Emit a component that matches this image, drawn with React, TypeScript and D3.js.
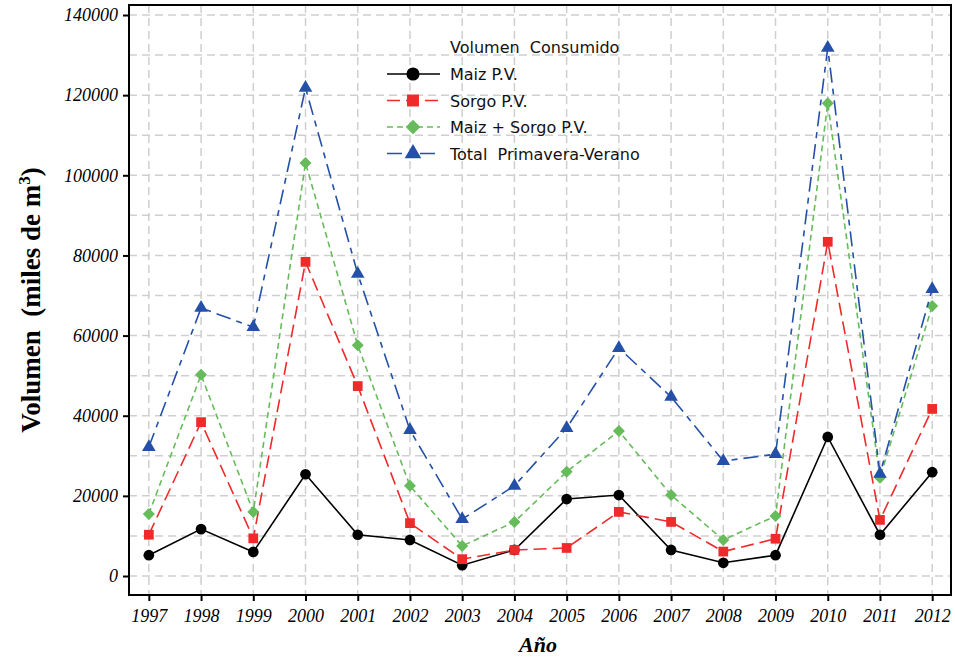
import React, { useRef, useEffect } from 'react';
import * as d3 from 'd3';

const years = [1997, 1998, 1999, 2000, 2001, 2002, 2003, 2004, 2005, 2006, 2007, 2008, 2009, 2010, 2011, 2012];
const maiz = [5200, 11700, 6000, 25400, 10300, 9000, 2700, 6500, 19200, 20200, 6500, 3300, 5200, 34700, 10300, 25900];
const sorgo = [10300, 38400, 9400, 78400, 47400, 13200, 4200, 6500, 7000, 16000, 13500, 6100, 9300, 83400, 14000, 41700];
const maizSorgo = [15500, 50200, 16000, 103100, 57600, 22500, 7500, 13500, 26000, 36200, 20200, 9000, 15000, 118000, 24500, 67400];
const total = [32200, 66900, 62100, 121800, 75400, 36400, 14200, 22500, 36900, 56900, 44700, 28700, 30400, 131800, 25500, 71600];
const yTicks = [0, 20000, 40000, 60000, 80000, 100000, 120000, 140000];

const seriesNames = ['Maiz P.V.', 'Sorgo P.V.', 'Maiz + Sorgo P.V.', 'Total  Primavera-Verano'];

const App = () => {
  const svgRef = useRef<SVGSVGElement>(null);

  useEffect(() => {
    const svg = d3.select(svgRef.current);
    svg.selectAll('*').remove();

    const left = 129, right = 951, top = 5, bottom = 595;
    const x = d3.scaleLinear().domain([1996.62, 2012.36]).range([left, right]);
    const y = d3.scaleLinear().domain([-4740, 142500]).range([bottom, top]);

    // grid
    const grid = svg.append('g').attr('stroke', '#cfcfcf').attr('stroke-width', 1.5).attr('stroke-dasharray', '8,5');
    d3.range(0, 140001, 10000).forEach((v) => {
      grid.append('line').attr('x1', left).attr('x2', right).attr('y1', y(v)).attr('y2', y(v));
    });
    years.forEach((yr) => {
      grid.append('line').attr('x1', x(yr)).attr('x2', x(yr)).attr('y1', top).attr('y2', bottom);
    });

    const series = [
      { name: seriesNames[0], values: maiz, color: '#000000', dash: null, shape: 'circle' },
      { name: seriesNames[1], values: sorgo, color: '#ee2a2a', dash: '13,6', shape: 'square' },
      { name: seriesNames[2], values: maizSorgo, color: '#66bb5a', dash: '6,4', shape: 'diamond' },
      { name: seriesNames[3], values: total, color: '#2450a8', dash: '15,6,6,6', shape: 'triangle' },
    ];

    // marker shapes, scale k for legend
    const marker = (shape: string, k: number) => {
      if (shape === 'circle') return { d: d3.symbol().type(d3.symbolCircle).size(90 * k)(), rot: 0 };
      if (shape === 'square') return { d: d3.symbol().type(d3.symbolSquare).size(95 * k)(), rot: 0 };
      if (shape === 'diamond') return { d: d3.symbol().type(d3.symbolSquare).size(72 * k)(), rot: 45 };
      return { d: d3.symbol().type(d3.symbolTriangle).size(80 * k)(), rot: 0 };
    };

    const line = d3.line<number>().x((_, i) => x(years[i])).y((d) => y(d));

    series.forEach((s) => {
      const g = svg.append('g');
      g.append('path')
        .datum(s.values)
        .attr('fill', 'none')
        .attr('stroke', s.color)
        .attr('stroke-width', 1.6)
        .attr('stroke-dasharray', s.dash)
        .attr('d', line);
      const m = marker(s.shape, 1);
      g.selectAll('path.m')
        .data(s.values)
        .join('path')
        .attr('class', 'm')
        .attr('transform', (d, i) => `translate(${x(years[i])},${y(d)}) rotate(${m.rot})`)
        .attr('fill', s.color)
        .attr('d', m.d);
    });

    // frame
    svg.append('rect')
      .attr('x', left).attr('y', top).attr('width', right - left).attr('height', bottom - top)
      .attr('fill', 'none').attr('stroke', '#000').attr('stroke-width', 2);

    // y axis
    const yAxis = svg.append('g')
      .attr('transform', `translate(${left},0)`)
      .call(d3.axisLeft(y).tickValues(yTicks).tickSize(6).tickFormat(d3.format('d')));
    yAxis.select('.domain').remove();
    yAxis.selectAll('line').attr('stroke', '#000').attr('stroke-width', 2);
    yAxis.selectAll('text')
      .attr('font-family', '"Liberation Serif", serif')
      .attr('font-style', 'italic')
      .attr('font-size', 18)
      .attr('fill', '#000')
      .attr('x', -11);

    // x axis
    const xAxis = svg.append('g')
      .attr('transform', `translate(0,${bottom})`)
      .call(d3.axisBottom(x).tickValues(years).tickSize(6).tickFormat(d3.format('d')));
    xAxis.select('.domain').remove();
    xAxis.selectAll('line').attr('stroke', '#000').attr('stroke-width', 2);
    xAxis.selectAll('text')
      .attr('font-family', '"Liberation Serif", serif')
      .attr('font-style', 'italic')
      .attr('font-size', 18)
      .attr('fill', '#000')
      .attr('y', 14);

    // axis titles
    svg.append('text')
      .attr('x', 538).attr('y', 652)
      .attr('text-anchor', 'middle')
      .attr('font-family', '"Liberation Serif", serif')
      .attr('font-weight', 'bold').attr('font-style', 'italic')
      .attr('font-size', 22)
      .text('Año');

    const yt = svg.append('text')
      .attr('transform', 'translate(40,300) rotate(-90)')
      .attr('text-anchor', 'middle')
      .attr('font-family', '"Liberation Serif", serif')
      .attr('font-weight', 'bold')
      .attr('font-size', 27)
      .style('white-space', 'pre');
    yt.append('tspan').text('Volumen  (miles de m');
    yt.append('tspan').attr('font-size', 17).attr('dy', -10).text('3');
    yt.append('tspan').attr('dy', 10).text(')');

    // legend
    const lg = svg.append('g')
      .attr('font-family', '"DejaVu Sans", sans-serif')
      .attr('font-size', 16)
      .attr('fill', '#111');
    lg.append('text').attr('x', 450).attr('y', 53).style('white-space', 'pre').text('Volumen  Consumido');
    series.forEach((s, i) => {
      const ly = 74 + i * 26.5;
      lg.append('line')
        .attr('x1', 387).attr('x2', 440).attr('y1', ly).attr('y2', ly)
        .attr('stroke', s.color).attr('stroke-width', 1.6)
        .attr('stroke-dasharray', s.dash);
      const m = marker(s.shape, 1.5);
      lg.append('path')
        .attr('transform', `translate(413,${ly}) rotate(${m.rot})`)
        .attr('fill', s.color)
        .attr('d', m.d);
      lg.append('text').attr('x', 450).attr('y', ly + 6).style('white-space', 'pre').text(s.name);
    });
  }, []);

  return <svg ref={svgRef} width={955} height={662} style={{ position: 'absolute', left: 0, top: 0, background: '#fff' }} />;
};

export default App;
